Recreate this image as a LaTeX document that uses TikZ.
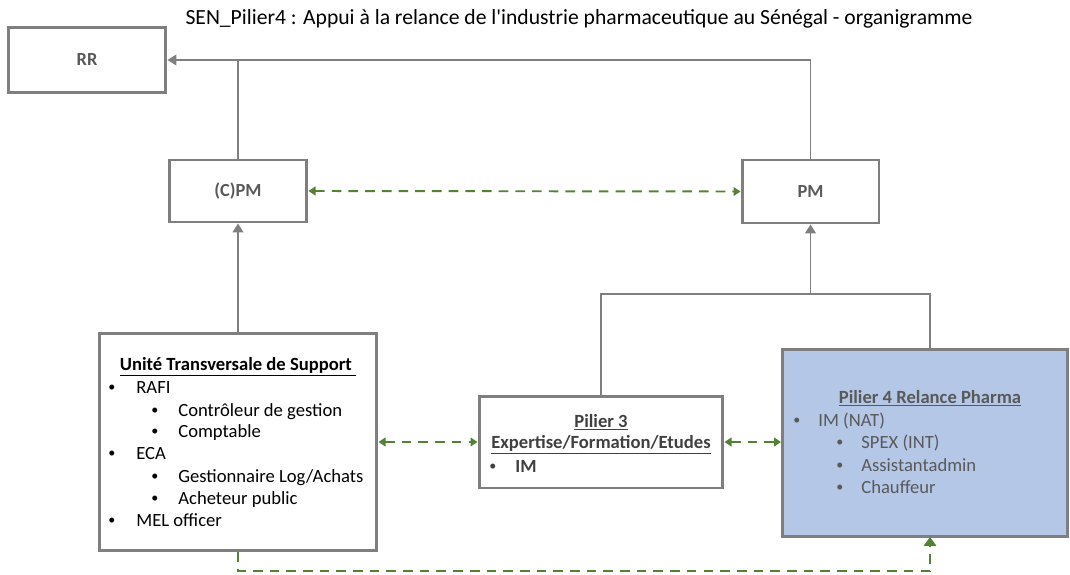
\documentclass[tikz,border=0pt]{standalone}
\usepackage{fontspec}
\setmainfont{Carlito}
\usetikzlibrary{arrows.meta}

\definecolor{boxgray}{RGB}{127,127,127}
\definecolor{linkgreen}{RGB}{84,130,53}
\definecolor{pilierblue}{RGB}{180,199,231}
\definecolor{labgray}{RGB}{89,89,89}
\definecolor{txtdark}{RGB}{64,64,64}

\newcommand{\dotitem}{\raisebox{0.9pt}{\fontsize{8}{9}\selectfont •}}

\tikzset{
  orgbox/.style={rectangle,draw=boxgray,line width=1.7pt,inner sep=0pt},
  orglabel/.style={font=\fontsize{10.5}{12}\selectfont\bfseries,text=labgray},
  hier/.style={line width=1pt,color=boxgray},
  hierarrow/.style={hier,-{Triangle[width=6pt,length=5pt]}},
  partner/.style={line width=1.1pt,color=linkgreen,dash pattern=on 5.5pt off 4pt},
  partnerarrow/.style={partner,{Triangle[width=5pt,length=4pt]}-{Triangle[width=5pt,length=4pt]}},
  line/.style={anchor=base west,inner sep=0pt,font=\fontsize{10.6}{12}\selectfont},
  head/.style={anchor=base,inner sep=0pt,font=\fontsize{10.6}{12}\selectfont\bfseries},
}

\begin{document}
\begin{tikzpicture}[x=0.02cm,y=-0.02cm]
 \useasboundingbox (0,0) rectangle (1070,574);

 \node (title) at (579,25) [anchor=base,inner sep=0pt,font=\fontsize{12.3}{14}\selectfont] {SEN\_Pilier4 : Appui à la relance de l\textquotesingle industrie pharmaceutique au Sénégal - organigramme};

 % boxes
 \node (RR) [orgbox,minimum width=3.16cm,minimum height=1.3cm] at (87,60) {};
 \node (CPM) [orgbox,minimum width=2.76cm,minimum height=1.24cm] at (238,191) {};
 \node (PM) [orgbox,minimum width=2.74cm,minimum height=1.26cm] at (810.5,191.5) {};
 \node (UTS) [orgbox,minimum width=5.56cm,minimum height=4.36cm] at (238,442) {};
 \node (P3) [orgbox,minimum width=4.88cm,minimum height=1.84cm] at (601,442) {};
 \node (P4) [orgbox,fill=pilierblue,minimum width=5.7cm,minimum height=3.76cm] at (925,443) {};

 \node (RRlab) [orglabel] at (RR) {RR};
 \node (CPMlab) [orglabel] at (CPM) {(C)PM};
 \node (PMlab) [orglabel] at (PM) {PM};

 % unite transversale
 \node (utshead) [head] at (238,370) {\underline{Unité Transversale de Support\ }};
 \node (utsb1) [line] at (108,393) {\dotitem};
 \node (utsl1) [line] at (136,393) {RAFI};
 \node (utsb2) [line] at (151,416) {\dotitem};
 \node (utsl2) [line] at (178,416) {Contrôleur de gestion};
 \node (utsb3) [line] at (151,437) {\dotitem};
 \node (utsl3) [line] at (178,437) {Comptable};
 \node (utsb4) [line] at (108,459) {\dotitem};
 \node (utsl4) [line] at (136,459) {ECA};
 \node (utsb5) [line] at (151,482) {\dotitem};
 \node (utsl5) [line] at (178,482) {Gestionnaire Log/Achats};
 \node (utsb6) [line] at (151,504) {\dotitem};
 \node (utsl6) [line] at (178,504) {Acheteur public};
 \node (utsb7) [line] at (108,526) {\dotitem};
 \node (utsl7) [line] at (136,526) {MEL officer};

 % pilier 3
 \node (p3head) [head,text=txtdark] at (601,427) {\underline{Pilier 3}};
 \node (p3sub) [head,text=txtdark] at (601,448) {\underline{Expertise/Formation/Etudes}};
 \node (p3b1) [line,text=txtdark] at (489,472) {\dotitem};
 \node (p3l1) [line,text=txtdark,font=\fontsize{10.6}{12}\selectfont\bfseries] at (515,472) {IM};

 % pilier 4
 \node (p4head) [head,text=labgray] at (930,403) {\underline{Pilier 4 Relance Pharma}};
 \node (p4b1) [line,text=labgray] at (793,426) {\dotitem};
 \node (p4l1) [line,text=labgray] at (818,426) {IM (NAT)};
 \node (p4b2) [line,text=labgray] at (836,448) {\dotitem};
 \node (p4l2) [line,text=labgray] at (861,448) {SPEX (INT)};
 \node (p4b3) [line,text=labgray] at (836,471) {\dotitem};
 \node (p4l3) [line,text=labgray] at (861,471) {Assistantadmin};
 \node (p4b4) [line,text=labgray] at (836,493) {\dotitem};
 \node (p4l4) [line,text=labgray] at (861,493) {Chauffeur};

 % hierarchy
 \coordinate (join) at (810.5,294);
 \coordinate (P4top) at (930,349);
 \draw [hierarrow] (PM.north) |- (RR.east);
 \draw [hier] (CPM.north) -- (CPM.north |- RR.east);
 \draw [hierarrow] (UTS.north) -- (CPM.south);
 \draw [hier] (P3.north) |- (join) -| (P4top);
 \draw [hierarrow] (join) -- (PM.south);

 % partners
 \draw [partnerarrow] (CPM.east) -- (PM.west);
 \draw [partnerarrow] (UTS.east |- P3.west) -- (P3.west);
 \draw [partnerarrow] (P3.east) -- (P4.west |- P3.east);
 \coordinate (turn) at (0,571);
 \coordinate (P4bot) at (930,537);
 \draw [partner,-{Triangle[width=7pt,length=5pt]}] (UTS.south) -- (UTS.south |- turn) -| (P4bot);
\end{tikzpicture}
\end{document}
